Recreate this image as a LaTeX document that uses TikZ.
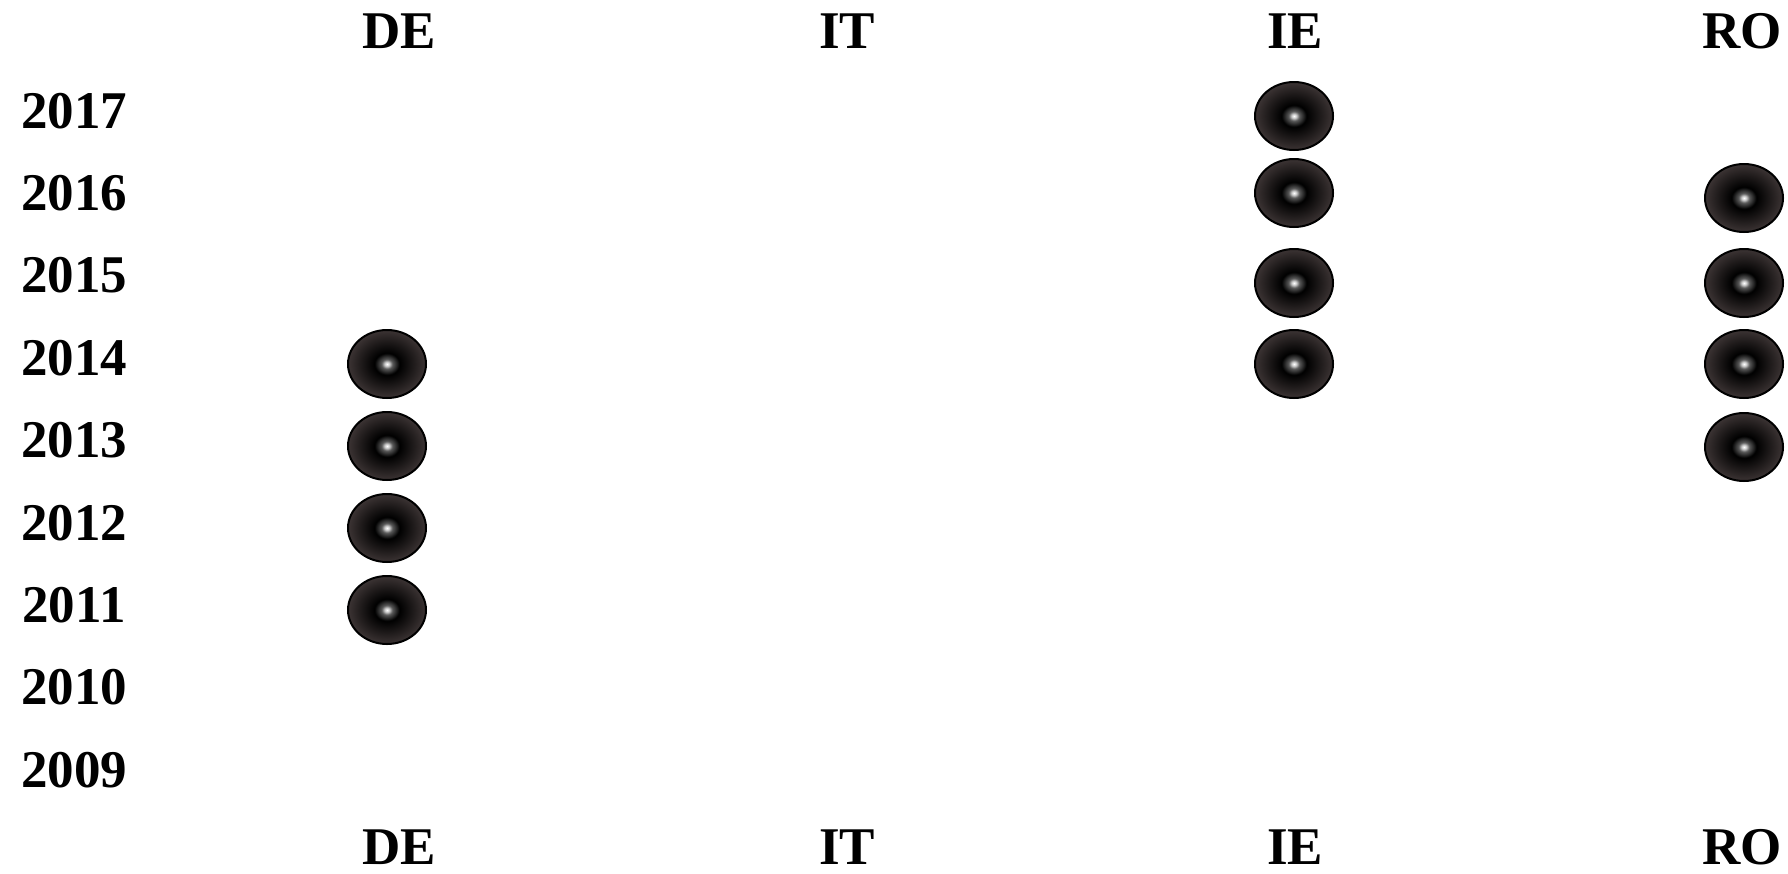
\documentclass[tikz,border=0pt]{standalone}
\usepackage{fontspec}
\setmainfont{Liberation Serif}
\usepackage{tikz}
\usetikzlibrary{shapes.geometric}

\definecolor{ballrim}{RGB}{60,52,52}
\pgfdeclareradialshading{ballglow}{\pgfpoint{0bp}{0bp}}{%
    color(0bp)=(white); color(1.5bp)=(white!80!black); color(3.5bp)=(black!65);
    color(8bp)=(black); color(25bp)=(ballrim); color(50bp)=(ballrim)}

\begin{document}
\begin{tikzpicture}[x=1pt, y=-1pt,
    headtxt/.style={font=\fontsize{53}{60}\selectfont\bfseries, anchor=base, inner sep=0pt, text depth=0pt},
    ball/.style={ellipse, draw=black, line width=2pt, shading=ballglow,
        minimum width=78pt, minimum height=68pt, inner sep=0pt}]
    \useasboundingbox (0, 0) rectangle (1788, 873); % page frame
    % years down the left
    \foreach \yr [count=\i from 0] in {2017,2016,...,2009}
        \node[headtxt] (y\yr) at (74, 128 + 82.4*\i) {\yr};
    % countries, top and bottom
    \foreach \cc/\xx in {DE/399, IT/847, IE/1295, RO/1742} {
        \node[headtxt] (top\cc) at (\xx, 48) {\cc};
        \node[headtxt] (bot\cc) at (\xx, 864) {\cc};
    }
    % markers
    \foreach \nm/\xx/\yy in {de2014/387/364, de2013/387/446, de2012/387/528, de2011/387/610,
        ie2017/1294/116, ie2016/1294/193, ie2015/1294/283, ie2014/1294/364,
        ro2016/1744/198, ro2015/1744/283, ro2014/1744/364, ro2013/1744/447}
        \node[ball] (\nm) at (\xx, \yy) {};
\end{tikzpicture}
\end{document}
